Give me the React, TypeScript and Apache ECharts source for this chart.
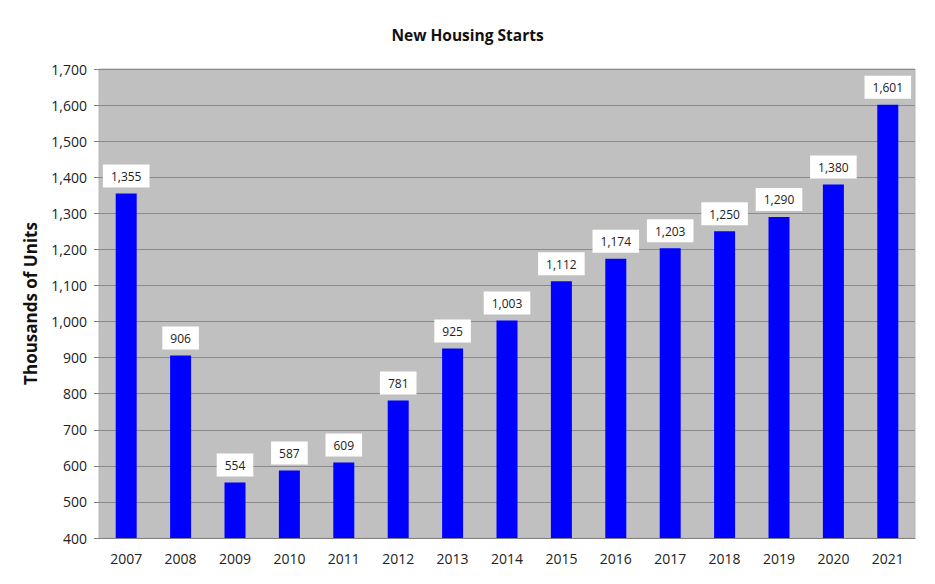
import React, { useEffect, useRef } from "react";
import * as echarts from "echarts";

const years = ["2007", "2008", "2009", "2010", "2011", "2012", "2013", "2014", "2015", "2016", "2017", "2018", "2019", "2020", "2021"];
const starts = [1355, 906, 554, 587, 609, 781, 925, 1003, 1112, 1174, 1203, 1250, 1290, 1380, 1601];
const chartTitle = "New Housing Starts";
const yAxisTitle = "Thousands of Units";

const fmt = (v: number) => v.toLocaleString("en-US");

export default function App() {
  const ref = useRef<HTMLDivElement>(null);
  useEffect(() => {
    if (!ref.current) return;
    const chart = echarts.init(ref.current, null, { renderer: "svg" });
    chart.setOption({
      animation: false,
      backgroundColor: "#ffffff",
      title: {
        text: chartTitle,
        left: "center",
        top: 14,
        textStyle: { fontFamily: "Open Sans", fontSize: 15.5, fontWeight: "bold", color: "#111" },
      },
      grid: {
        left: 91,
        right: 12,
        top: 61,
        bottom: 38,
        show: true,
        backgroundColor: "#c0c0c0",
        borderColor: "#b8b8b8",
        borderWidth: 1,
      },
      xAxis: {
        type: "category",
        data: years,
        axisLine: { show: true, lineStyle: { color: "#808080", width: 1 } },
        axisTick: { show: false },
        axisLabel: { fontFamily: "Open Sans", fontSize: 14, color: "#222", margin: 13 },
      },
      yAxis: {
        type: "value",
        min: 400,
        max: 1700,
        interval: 100,
        name: yAxisTitle,
        nameLocation: "middle",
        nameGap: 60,
        nameTextStyle: { fontFamily: "Open Sans", fontSize: 17, fontWeight: "bold", color: "#111" },
        axisLine: { show: false },
        axisTick: { show: true, length: 5, lineStyle: { color: "#808080" } },
        axisLabel: { fontFamily: "Open Sans", fontSize: 14, color: "#222", margin: 12, formatter: (v: number) => fmt(v) },
        splitLine: { show: true, lineStyle: { color: "#8a8a8a", width: 1 } },
      },
      series: [
        {
          type: "bar",
          data: starts,
          barWidth: 21,
          itemStyle: { color: "#0000ff" },
          label: {
            show: true,
            position: "top",
            distance: 6,
            formatter: (p: any) => fmt(p.value),
            backgroundColor: "#ffffff",
            padding: [6, 8, 5, 8],
            fontFamily: "Open Sans",
            fontSize: 12,
            color: "#222",
          },
        },
      ],
    });
    return () => chart.dispose();
  }, []);
  return <div ref={ref} style={{ width: 919, height: 568 }} />;
}
